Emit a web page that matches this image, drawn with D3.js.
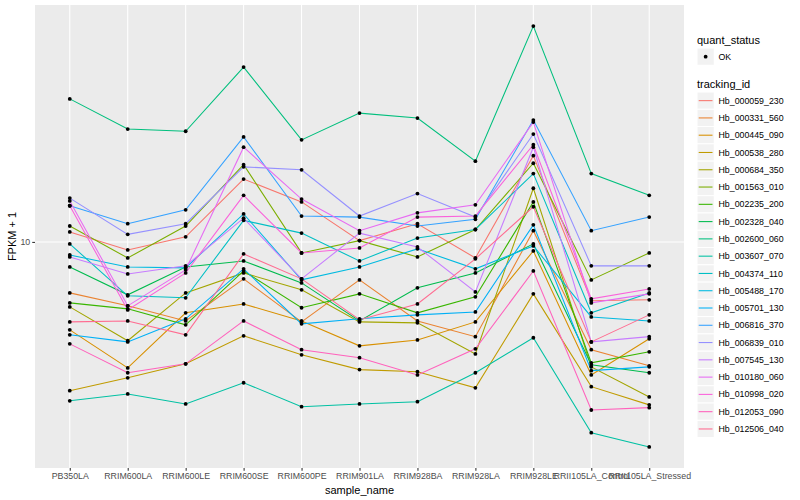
<!DOCTYPE html>
<html><head><meta charset="utf-8">
<script src="https://cdn.jsdelivr.net/npm/d3@7"></script>
<style>body{margin:0;background:#fff}svg{display:block}</style>
</head><body><svg id="c" width="800" height="500"></svg>
<script>
const categories = ["PB350LA","RRIM600LA","RRIM600LE","RRIM600SE","RRIM600PE","RRIM901LA","RRIM928BA","RRIM928LA","RRIM928LE","RRII105LA_Control","RRII105LA_Stressed"];
const trackingIds = ["Hb_000059_230","Hb_000331_560","Hb_000445_090","Hb_000538_280","Hb_000684_350","Hb_001563_010","Hb_002235_200","Hb_002328_040","Hb_002600_060","Hb_003607_070","Hb_004374_110","Hb_005488_170","Hb_005701_130","Hb_006816_370","Hb_006839_010","Hb_007545_130","Hb_010180_060","Hb_010998_020","Hb_012053_090","Hb_012506_040"];
const s000059_230 = [10.8,9.40,10.4,16.2,13.6,10.1,11.5,8.84,19.4,6.36,6.41];
const s000331_560 = [6.76,6.12,5.45,7.53,5.41,7.47,5.45,4.83,10.9,4.37,3.86];
const s000445_090 = [5.09,3.80,5.80,6.21,5.45,4.50,4.71,5.41,9.33,3.60,4.75];
const s000538_280 = [3.19,3.52,3.92,4.86,4.20,3.75,3.69,3.26,6.71,3.29,2.86];
const s000684_350 = [6.07,4.68,6.76,7.88,6.92,5.41,5.37,4.23,15.1,3.83,3.04];
const s001563_010 = [11.3,8.84,11.3,18.1,9.19,10.1,8.91,11.0,18.3,7.47,9.19];
const s002235_200 = [6.26,5.98,5.29,8.00,6.03,6.71,5.80,6.56,13.6,3.95,4.30];
const s002328_040 = [8.25,6.66,8.25,8.64,7.30,5.45,7.03,7.88,9.85,3.89,3.66];
const s002600_060 = [30.0,23.8,23.4,38.3,21.9,26.9,25.9,18.6,52.5,16.9,14.3];
const s003607_070 = [2.95,3.11,2.88,3.39,2.82,2.88,2.93,3.66,4.79,2.31,2.07];
const s004374_110 = [9.85,6.61,6.51,11.8,10.7,8.64,10.3,11.0,16.9,5.80,6.76];
const s005488_170 = [9.05,8.25,8.19,12.4,7.47,8.25,9.48,8.13,9.70,5.62,5.45];
const s005701_130 = [4.90,4.64,5.54,8.13,5.33,5.54,5.71,5.84,11.4,3.72,3.83];
const s006816_370 = [13.2,11.5,12.8,22.4,12.2,12.1,11.3,11.9,25.5,10.9,12.1];
const s006839_010 = [14.0,10.6,11.5,17.8,17.4,12.2,14.5,12.1,22.9,8.32,8.32];
const s007545_130 = [8.91,7.82,8.32,12.0,7.53,10.7,9.62,6.81,20.7,4.64,4.83];
const s010180_060 = [13.7,6.12,8.07,20.7,13.9,10.9,12.5,13.3,25.1,6.26,6.71];
const s010998_020 = [13.2,5.93,7.88,14.3,9.19,9.55,12.1,12.2,21.1,6.46,6.97];
const s012053_090 = [4.57,3.66,3.92,5.45,4.37,4.11,3.60,4.40,8.00,2.75,2.80];
const s012506_040 = [5.41,5.45,4.90,9.12,7.53,5.50,6.21,8.78,13.1,4.64,5.71];
const seriesValues = [s000059_230,s000331_560,s000445_090,s000538_280,s000684_350,s001563_010,s002235_200,s002328_040,s002600_060,s003607_070,s004374_110,s005488_170,s005701_130,s006816_370,s006839_010,s007545_130,s010180_060,s010998_020,s012053_090,s012506_040];
const yTicks = [10];
const quantStatus = ["OK"];
const colors = ["#F8766D","#EA8331","#D89000","#C09B00","#A3A500","#7CAE00","#39B600","#00BB4E","#00BF7D","#00C1A3","#00BFC4","#00BAE0","#00B0F6","#35A2FF","#9590FF","#C77CFF","#E76BF3","#FA62DB","#FF62BC","#FF6C91"];

const font = "'Liberation Sans', Arial, Helvetica, sans-serif";
const svg = d3.select("#c");
const L = 35, R = 684, T = 5, B = 468;

const x = d3.scalePoint().domain(categories).range([L, R]).padding(0.6);
const all = seriesValues.flat();
const lmin = Math.log10(d3.min(all)), lmax = Math.log10(d3.max(all));
const pad = 0.05*(lmax-lmin);
const y = d3.scaleLog().domain([10**(lmin-pad), 10**(lmax+pad)]).range([B, T]);

svg.append("rect").attr("x",L).attr("y",T).attr("width",R-L).attr("height",B-T).attr("fill","#EBEBEB");
const g = svg.append("g");
g.selectAll(".vg").data(categories).join("line").attr("x1",d=>x(d)).attr("x2",d=>x(d)).attr("y1",T).attr("y2",B).attr("stroke","#fff").attr("stroke-width",1.07);
g.selectAll(".hg").data(yTicks).join("line").attr("x1",L).attr("x2",R).attr("y1",d=>y(d)).attr("y2",d=>y(d)).attr("stroke","#fff").attr("stroke-width",1.07);

const line = d3.line().x((d,i)=>x(categories[i])).y(d=>y(d));
svg.append("g").selectAll("path").data(seriesValues).join("path")
  .attr("d",line).attr("fill","none").attr("stroke",(d,i)=>colors[i]).attr("stroke-width",1.07);
const pts = svg.append("g");
seriesValues.forEach(vals=>{
  pts.selectAll(null).data(vals).join("circle").attr("cx",(d,i)=>x(categories[i])).attr("cy",d=>y(d)).attr("r",1.9).attr("fill","#000");
});

const xa = svg.append("g").attr("transform",`translate(0,${B})`).call(d3.axisBottom(x).tickSize(2.75).tickPadding(2));
const ya = svg.append("g").attr("transform",`translate(${L},0)`).call(d3.axisLeft(y).tickValues(yTicks).tickFormat(d3.format("d")).tickSize(2.75).tickPadding(2));
[xa,ya].forEach(a=>{
  a.select(".domain").remove();
  a.selectAll(".tick line").attr("stroke","#333333").attr("stroke-width",1.07);
  a.selectAll(".tick text").attr("fill","#4D4D4D").attr("font-size","8.8px").attr("font-family",font);
});
svg.append("text").attr("x",(L+R)/2).attr("y",494).attr("text-anchor","middle").attr("font-size","11px").attr("font-family",font).text("sample_name");
svg.append("text").attr("transform",`translate(16,${(T+B)/2}) rotate(-90)`).attr("text-anchor","middle").attr("font-size","11px").attr("font-family",font).text("FPKM + 1");

const lx = 697;
svg.append("text").attr("x",lx).attr("y",44).attr("font-size","11px").attr("font-family",font).text("quant_status");
const ql = svg.append("g").selectAll("g").data(quantStatus).join("g").attr("transform",(d,i)=>`translate(${lx},${48+i*17.28})`);
ql.append("rect").attr("width",17.28).attr("height",17.28).attr("fill","#F2F2F2").attr("stroke","#fff");
ql.append("circle").attr("cx",8.64).attr("cy",8.64).attr("r",1.9).attr("fill","#000");
ql.append("text").attr("x",21.5).attr("y",8.64).attr("dy","0.35em").attr("font-size","8.8px").attr("font-family",font).text(d=>d);

svg.append("text").attr("x",lx).attr("y",88).attr("font-size","11px").attr("font-family",font).text("tracking_id");
const tl = svg.append("g").selectAll("g").data(trackingIds).join("g").attr("transform",(d,i)=>`translate(${lx},${92+i*17.28})`);
tl.append("rect").attr("width",17.28).attr("height",17.28).attr("fill","#F2F2F2").attr("stroke","#fff");
tl.append("line").attr("x1",1.7).attr("x2",15.5).attr("y1",8.64).attr("y2",8.64).attr("stroke",(d,i)=>colors[i]).attr("stroke-width",1.07);
tl.append("text").attr("x",21.5).attr("y",8.64).attr("dy","0.35em").attr("font-size","8.8px").attr("font-family",font).text(d=>d);
</script></body></html>
